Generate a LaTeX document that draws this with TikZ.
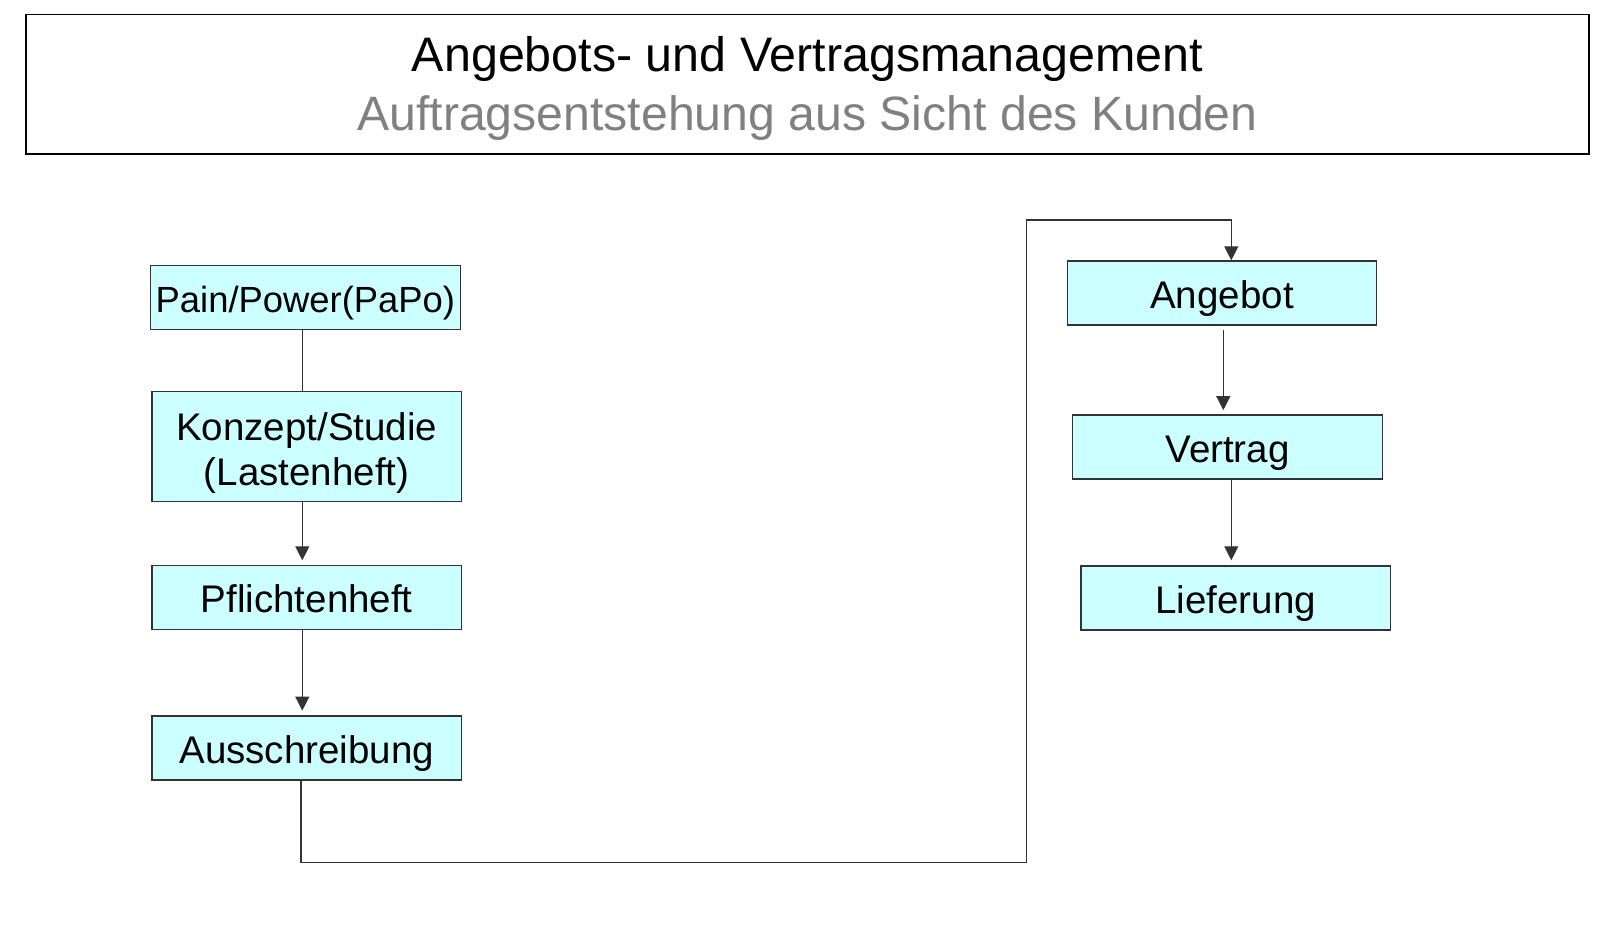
\documentclass[tikz,border=0pt]{standalone}
\usepackage{fontspec}
\setmainfont{Liberation Sans}
\usetikzlibrary{arrows.meta}
\definecolor{boxfill}{HTML}{CCFFFF}
\definecolor{subgray}{HTML}{808080}
\definecolor{linegray}{HTML}{333333}
\begin{document}
\begin{tikzpicture}[x=0.5pt,y=-0.5pt,
  stepbox/.style={draw=linegray, line width=0.6pt, fill=boxfill,
    minimum width=154.7pt, minimum height=32pt, inner sep=0pt,
    font=\fontsize{19.25}{22.5}\selectfont, text height=15.4pt, text depth=0pt},
  conn/.style={draw=linegray, line width=0.6pt},
  arr/.style={conn, -{Triangle[width=7pt,length=7pt]}},
  titlefont/.style={font=\fontsize{24.2}{29}\selectfont}]
\useasboundingbox (0,0) rectangle (1624,937);
% title
\node[draw=black, line width=0.9pt, minimum width=781.5pt, minimum height=69.9pt, inner sep=0pt] (titlebox) at (807.5,84.4) {};
\node[anchor=base, titlefont] (title) at (807.5,71.5) {Angebots- und Vertragsmanagement};
\node[anchor=base, font=\fontsize{24.1}{29}\selectfont, text=subgray] (subtitle) at (807.5,130.5) {Auftragsentstehung aus Sicht des Kunden};
% left column
\node[stepbox, font=\fontsize{18.2}{21.2}\selectfont] (papo) at (305.4,297.5) {Pain/Power(PaPo)};
\node[stepbox, minimum height=55pt, align=center, text height=38.8pt, text depth=0pt] (konzept) at (306.7,446.7) {Konzept/Studie\\(Lastenheft)};
\node[stepbox] (pflicht) at (306.7,597.2) {Pflichtenheft};
\node[stepbox] (aus) at (306.7,747.9) {Ausschreibung};
% right column
\node[stepbox] (angebot) at (1222,292.9) {Angebot};
\node[stepbox] (vertrag) at (1227.5,447) {Vertrag};
\node[stepbox] (lieferung) at (1235.7,597.9) {Lieferung};
% connectors
\coordinate (c1) at (1026.3,862.7);
\coordinate (c2) at (1026.3,220);
\draw[conn] ([xshift=-1.55pt]papo.south) -- ([xshift=-1.55pt]papo.south |- konzept.north);
\draw[arr, shorten >=2.15pt] ([xshift=-2.2pt]konzept.south) -- ([xshift=-2.2pt]pflicht.north);
\draw[arr, shorten >=2.35pt] ([xshift=-2.2pt]pflicht.south) -- ([xshift=-2.2pt]aus.north);
\draw[arr] ([xshift=-2.85pt]aus.south) |- (c1) -- (c2) -| ([xshift=4.65pt]angebot.north);
\draw[arr, shorten <=2.15pt, shorten >=2.15pt] ([xshift=0.65pt]angebot.south) -- ([xshift=0.65pt]angebot.south |- vertrag.north);
\draw[arr, shorten >=2.5pt] ([xshift=1.9pt]vertrag.south) -- ([xshift=1.9pt]vertrag.south |- lieferung.north);
\end{tikzpicture}
\end{document}
